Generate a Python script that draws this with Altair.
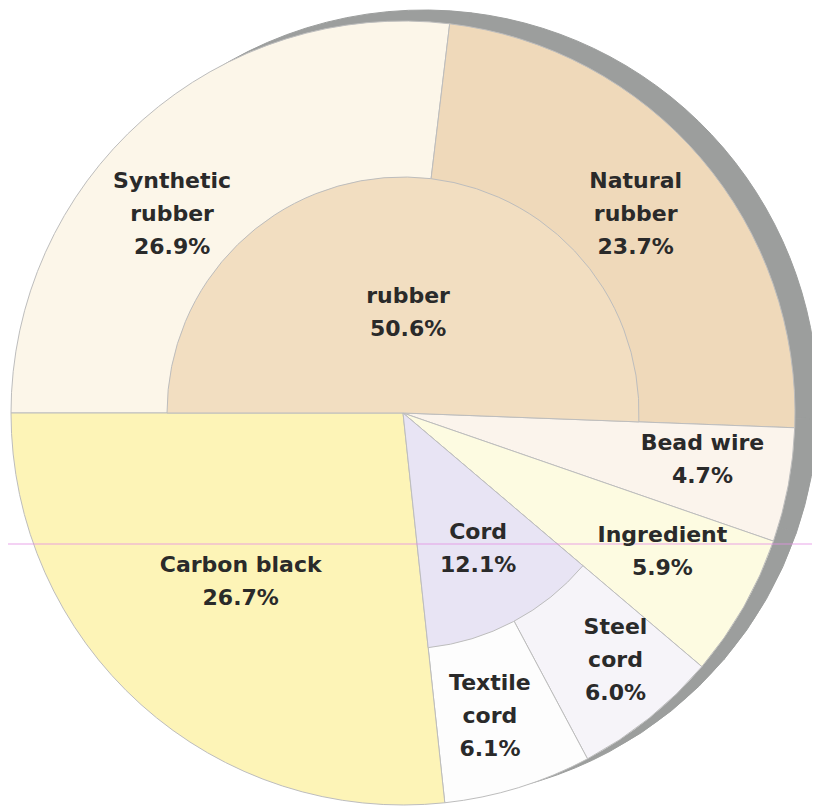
import math
import altair as alt
import pandas as pd

# ---- data ----
outer_labels = ["Synthetic rubber", "Natural rubber", "Bead wire", "Ingredient",
                "Steel cord", "Textile cord", "Carbon black"]
outer_names = ["Synthetic\nrubber", "Natural\nrubber", "Bead wire", "Ingredient",
               "Steel\ncord", "Textile\ncord", "Carbon black"]
outer_values = [26.9, 23.7, 4.7, 5.9, 6.0, 6.1, 26.7]
outer_colors = ["#fcf6e9", "#efd9ba", "#fbf4ec", "#fdfbe1", "#f6f4f9", "#fdfdfd", "#fdf4b7"]

inner_labels = ["rubber", "gap_a", "Cord", "gap_b"]
inner_values = [50.6, 10.6, 12.1, 26.7]
inner_shown = [True, False, True, False]
inner_colors = ["#f2dec1", "#ffffff", "#e8e4f4", "#ffffff"]

# ---- layout / style (not data) ----
CX, CY = 395, 405          # pie centre inside the plot area
R_OUT, R_IN = 392, 236
SHADOW_DX, SHADOW_DY, SHADOW_DR = 21, -9, 2
LINE_H = 33
label_radius = {"Synthetic rubber": 305, "Natural rubber": 306, "Bead wire": 303,
                "Ingredient": 294, "Steel cord": 326, "Textile cord": 315,
                "Carbon black": 234, "rubber": 101, "Cord": 155}
label_shift = {"Synthetic rubber": -2.12, "Bead wire": -0.5, "Ingredient": -0.45,
               "Steel cord": -0.5, "Textile cord": 0.3, "Carbon black": 0.55,
               "rubber": 0.5, "Cord": -0.3}

outer_df = pd.DataFrame({"idx": range(len(outer_labels)), "label": outer_labels,
                         "name": outer_names, "value": outer_values})
inner_df = pd.DataFrame({"idx": range(len(inner_labels)), "label": inner_labels,
                         "value": inner_values, "shown": inner_shown})


def label_table(df, names):
    mid = df["value"].cumsum() - df["value"] / 2
    out = pd.DataFrame({
        "label": df["label"],
        "text": [f"{n}\n{v:.1f}%" for n, v in zip(names, df["value"])],
        "pos": [m + label_shift.get(l, 0.0) for m, l in zip(mid, df["label"])],
    })
    out["r"] = [label_radius.get(l, 0) for l in out["label"]]
    out["lines"] = [t.count("\n") + 1 for t in out["text"]]
    return out


outer_lbl = label_table(outer_df, outer_names)
inner_lbl = label_table(inner_df, inner_labels)
inner_lbl = inner_lbl[inner_df["shown"].values]
all_lbl = pd.concat([outer_lbl, inner_lbl], ignore_index=True)

theta_scale = alt.Scale(domain=[0, 100], range=[-math.pi / 2, 3 * math.pi / 2])
color_scale = alt.Scale(domain=outer_labels + inner_labels, range=outer_colors + inner_colors)

shadow = alt.Chart(outer_df).mark_arc(radius=R_OUT + SHADOW_DR, fill="#9c9e9d",
                                      stroke="#9c9e9d", strokeWidth=1).encode(
    theta=alt.Theta("value:Q", stack=True, scale=theta_scale),
    order=alt.Order("idx:Q"),
    x=alt.value(CX + SHADOW_DX), y=alt.value(CY + SHADOW_DY),
)

outer_arc = alt.Chart(outer_df).mark_arc(radius=R_OUT, stroke="#bdbdbd", strokeWidth=1).encode(
    theta=alt.Theta("value:Q", stack=True, scale=theta_scale),
    order=alt.Order("idx:Q"),
    color=alt.Color("label:N", scale=color_scale, legend=None),
    x=alt.value(CX), y=alt.value(CY),
)

inner_arc = alt.Chart(inner_df).mark_arc(radius=R_IN, stroke="#bdbdbd", strokeWidth=1).encode(
    theta=alt.Theta("value:Q", stack=True, scale=theta_scale),
    order=alt.Order("idx:Q"),
    color=alt.Color("label:N", scale=color_scale, legend=None),
    opacity=alt.condition("datum.shown", alt.value(1), alt.value(0)),
    x=alt.value(CX), y=alt.value(CY),
)

guide = alt.Chart(pd.DataFrame({"a": [0]})).mark_rule(color="#e48fe4", strokeWidth=1,
                                                      opacity=0.8).encode(
    x=alt.value(-8), x2=alt.value(812), y=alt.value(CY + 131),
)


def text_layer(df, n_lines):
    sub = df[df["lines"] == n_lines]
    return alt.Chart(sub).mark_text(font="DejaVu Sans", fontWeight="bold", fontSize=22,
                                    lineHeight=LINE_H, lineBreak="\n", color="#2a2a2a",
                                    align="center", baseline="middle",
                                    dy=-(n_lines - 1) * LINE_H / 2).encode(
        theta=alt.Theta("pos:Q", stack=False, scale=theta_scale),
        radius=alt.Radius("r:Q", scale=None),
        text="text:N",
        x=alt.value(CX), y=alt.value(CY),
    )


chart = alt.layer(
    shadow, outer_arc, inner_arc, guide, text_layer(all_lbl, 2), text_layer(all_lbl, 3)
).properties(
    width=804, height=800, padding=0, autosize=alt.AutoSizeParams(type="none"),
    background="white",
).configure_view(stroke=None)

chart.save("out.html", embed_options={"renderer": "svg", "actions": False})
